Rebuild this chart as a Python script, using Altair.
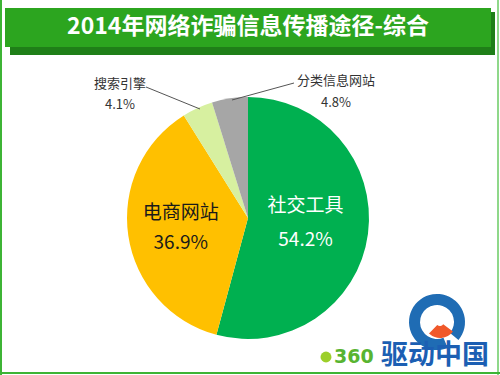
import altair as alt
import pandas as pd

# ---- data ----
categories = ["社交工具", "电商网站", "搜索引擎", "分类信息网站"]
shares = [54.2, 36.9, 4.1, 4.8]
pct_labels = ["54.2%", "36.9%", "4.1%", "4.8%"]
slice_order = [0, 1, 2, 3]
colors = ["#00B050", "#FFC000", "#D7F0A0", "#A6A6A6"]
title_text = "2014年网络诈骗信息传播途径-综合"

df = pd.DataFrame({"cat": categories, "share": shares, "pct": pct_labels, "ord": slice_order})
dummy = pd.DataFrame({"a": [0]})

FONT = "Noto Sans CJK SC"
CX, CY, R = 248, 218, 121

base = alt.Chart(df).encode(
    theta=alt.Theta("share:Q", stack=True),
    order=alt.Order("ord:Q"),
    x=alt.value(CX),
    y=alt.value(CY),
)

pie = base.mark_arc(radius=R).encode(
    color=alt.Color("cat:N", scale=alt.Scale(domain=categories, range=colors), legend=None)
)

lab_green = base.transform_calculate(
    t="datum.cat == '社交工具' ? [datum.cat, datum.pct] : ''"
).mark_text(radius=58, dy=-20, font=FONT, fontSize=19, color="white", lineHeight=34,
            baseline="middle", align="center").encode(text="t:N")

lab_orange = base.transform_calculate(
    t="datum.cat == '电商网站' ? [datum.cat, datum.pct] : ''"
).mark_text(radius=68, dy=-15, font=FONT, fontSize=19, color="#1a1a1a", lineHeight=30,
            baseline="middle", align="center").encode(text="t:N")

# outside labels for small slices
lab_search = alt.Chart(dummy).mark_text(font=FONT, fontSize=13, color="#333333", lineHeight=21,
                                         baseline="middle", align="center").encode(
    x=alt.value(120), y=alt.value(84), text=alt.value([categories[2], pct_labels[2]]))
lab_class = alt.Chart(dummy).mark_text(font=FONT, fontSize=13, color="#333333", lineHeight=22,
                                        baseline="middle", align="center").encode(
    x=alt.value(336), y=alt.value(81), text=alt.value([categories[3], pct_labels[3]]))

lead1 = alt.Chart(dummy).mark_rule(color="#555555", strokeWidth=1).encode(
    x=alt.value(146), y=alt.value(87), x2=alt.value(200), y2=alt.value(109))
lead2 = alt.Chart(dummy).mark_rule(color="#555555", strokeWidth=1).encode(
    x=alt.value(294), y=alt.value(83), x2=alt.value(232), y2=alt.value(100))

# title banner
shadow = alt.Chart(dummy).mark_rect(color="#1f7f18").encode(
    x=alt.value(10), x2=alt.value(495), y=alt.value(12), y2=alt.value(55))
banner = alt.Chart(dummy).mark_rect(color="#2ca51f").encode(
    x=alt.value(5), x2=alt.value(491), y=alt.value(8), y2=alt.value(47))
title = alt.Chart(dummy).mark_text(font=FONT, fontSize=23, fontWeight="bold", color="white",
                                    baseline="middle", align="center").encode(
    x=alt.value(248), y=alt.value(27), text=alt.value(title_text))

# frame
frame_l = alt.Chart(dummy).mark_rule(color="#3db435", strokeWidth=2).encode(
    x=alt.value(1), x2=alt.value(1), y=alt.value(0), y2=alt.value(375))
frame_r = alt.Chart(dummy).mark_rule(color="#8fd88a", strokeWidth=2).encode(
    x=alt.value(498), x2=alt.value(498), y=alt.value(0), y2=alt.value(375))
frame_b = alt.Chart(dummy).mark_rule(color="#3db435", strokeWidth=2).encode(
    x=alt.value(0), x2=alt.value(500), y=alt.value(373), y2=alt.value(373))

# logo
ring = alt.Chart(dummy).mark_arc(radius=28, radius2=17, theta=2.75, theta2=8.55, color="#1f6cb4").encode(
    x=alt.value(437), y=alt.value(322))
flame = alt.Chart(dummy).mark_arc(radius=16, radius2=4, theta=2.2, theta2=3.9, color="#f0582a").encode(
    x=alt.value(440), y=alt.value(322))
icon = alt.Chart(dummy).mark_point(filled=True, size=120, color="#9ccf2a", opacity=1).encode(
    x=alt.value(326), y=alt.value(357))
logo360 = alt.Chart(dummy).mark_text(font="DejaVu Sans", fontSize=19, fontWeight="bold", color="#58b431",
                                      baseline="middle", align="left").encode(
    x=alt.value(334), y=alt.value(357), text=alt.value("360"))
logocn = alt.Chart(dummy).mark_text(font=FONT, fontSize=27, fontWeight="bold", color="#1c5fb3",
                                     baseline="middle", align="left").encode(
    x=alt.value(381), y=alt.value(356), text=alt.value("驱动中国"))

chart = alt.layer(
    shadow, banner, title, pie, lab_green, lab_orange, lead1, lead2, lab_search, lab_class,
    ring, flame, icon, logo360, logocn, frame_l, frame_r, frame_b
).properties(
    width=500, height=375, padding=0, autosize=alt.AutoSizeParams(type="none"), background="white"
).configure_view(stroke=None)

chart.save("out.html", embed_options={"renderer": "svg", "actions": False})
